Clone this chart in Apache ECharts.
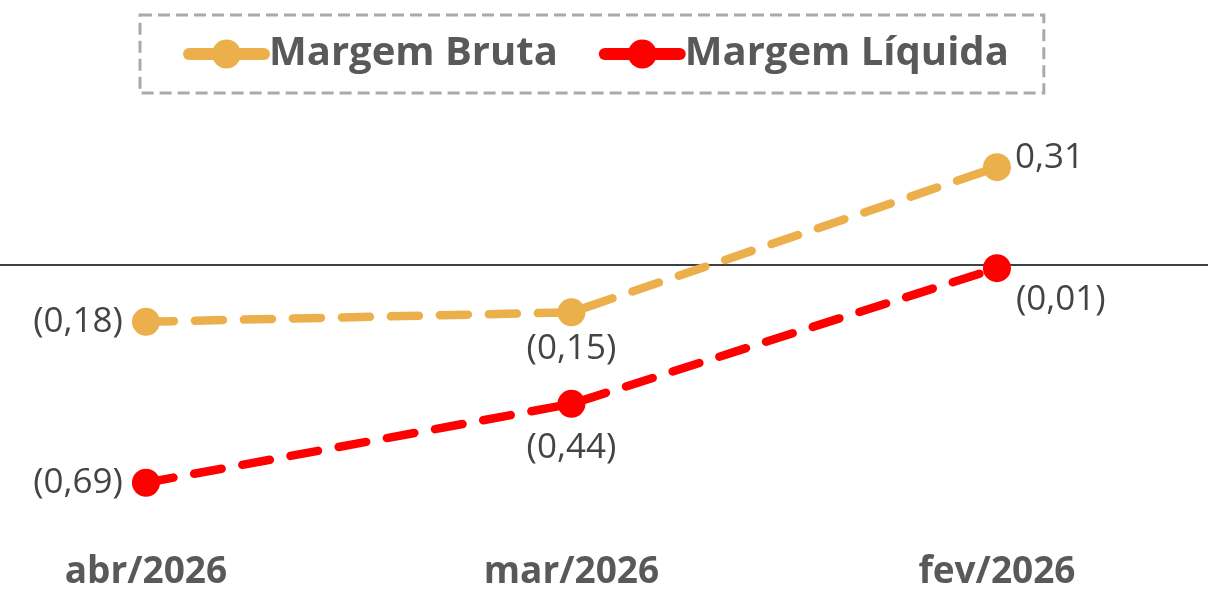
<!DOCTYPE html>
<html>
<head>
<meta charset="utf-8">
<script src="https://cdn.jsdelivr.net/npm/echarts@6/dist/echarts.min.js"></script>
<style>
html,body{margin:0;padding:0;background:#fff;}
#chart{width:1208px;height:591px;}
</style>
</head>
<body>
<div id="chart"></div>
<script>
const categories = ['abr/2026', 'mar/2026', 'fev/2026'];
const seriesNames = ['Margem Bruta', 'Margem Líquida'];
const margemBruta = [-0.18, -0.15, 0.31];
const margemLiquida = [-0.69, -0.44, -0.01];

const FONT = "'Open Sans', 'Noto Sans', sans-serif";
const colors = ['#EBB04B', '#FF0000'];

function fmt(v) {
  const s = Math.abs(v).toFixed(2).replace('.', ',');
  return v < 0 ? '(' + s + ')' : s;
}

const labelBase = { show: true, fontFamily: FONT, fontSize: 35, color: '#444', formatter: p => fmt(p.value[1]) };

const brutaLabels = [
  { position: 'left', distance: 9 },
  { position: 'bottom', distance: 5 },
  { position: 'right', distance: 4, offset: [0, -9] }
];
const liquidaLabels = [
  { position: 'left', distance: 9 },
  { position: 'bottom', distance: 13 },
  { position: 'right', distance: 5, offset: [0, 32] }
];

function mkData(vals, labs) {
  return vals.map((v, i) => ({ value: [i, v], label: labs[i] }));
}

function mkSeries(name, vals, labs, color, z) {
  return {
    name: name, type: 'line', xAxisIndex: 0, yAxisIndex: 0,
    data: mkData(vals, labs),
    symbol: 'circle', symbolSize: 28,
    itemStyle: { color: color },
    lineStyle: { color: color, width: 8.5, type: [28, 21], cap: 'round' },
    label: labelBase,
    z: z,
    emphasis: { disabled: true },
    animation: false
  };
}

const idx = categories.map((c, i) => i);
const xMin = -0.343, xMax = 2.496;

const chart = echarts.init(document.getElementById('chart'));
chart.setOption({
  backgroundColor: '#fff',
  animation: false,
  legend: {
    top: 15, left: 140,
    data: seriesNames,
    itemWidth: 75, itemHeight: 36, itemGap: 41,
    padding: [19, 35, 19, 43],
    borderColor: '#aaa', borderWidth: 3, borderType: [12, 6],
    lineStyle: { type: 'solid', width: 12, cap: 'round' },
    textStyle: { fontFamily: FONT, fontSize: 40, fontWeight: 'bold', color: '#595959' }
  },
  grid: { left: 0, right: 0, top: 123, height: 431, containLabel: false },
  xAxis: [
    {
      type: 'value', min: xMin, max: xMax,
      axisLine: { show: true, onZero: true, lineStyle: { color: '#000', width: 1.5 } },
      axisTick: { show: false }, axisLabel: { show: false }, splitLine: { show: false }
    },
    {
      type: 'value', min: xMin, max: xMax, position: 'bottom',
      axisLine: { show: false, onZero: false }, axisTick: { show: false }, splitLine: { show: false },
      axisLabel: {
        show: true, customValues: idx, formatter: v => categories[Math.round(v)],
        margin: 5, fontFamily: FONT, fontSize: 37, fontWeight: 'bold', color: '#595959'
      }
    }
  ],
  yAxis: {
    type: 'value', min: -0.9, max: 0.45, show: false, splitLine: { show: false }
  },
  series: [
    mkSeries(seriesNames[0], margemBruta, brutaLabels, colors[0], 3),
    mkSeries(seriesNames[1], margemLiquida, liquidaLabels, colors[1], 2)
  ]
});
</script>
</body>
</html>
